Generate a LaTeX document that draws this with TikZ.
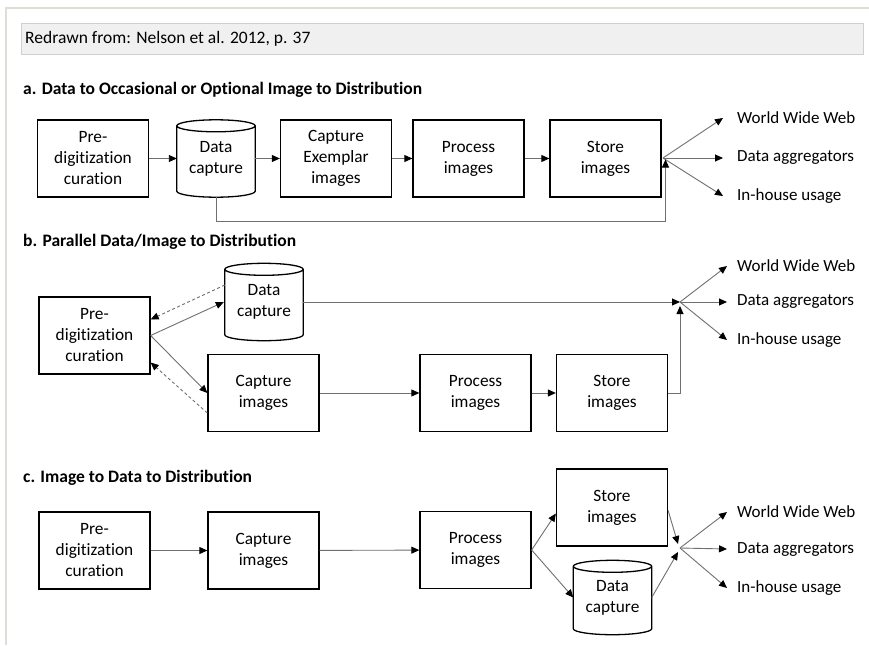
\documentclass[tikz,border=0pt]{standalone}
\usepackage{fontspec}
\setmainfont[Ligatures=NoCommon]{Carlito}
\usetikzlibrary{arrows.meta,calc}

\definecolor{framegray}{HTML}{DEDED8}
\definecolor{bannerfill}{HTML}{F0F0F0}
\definecolor{bannerline}{HTML}{CFCFCF}
\definecolor{linkgray}{HTML}{707070}

\tikzset{
  stage/.style={draw=black, line width=1.3pt, minimum width=111pt, minimum height=77pt,
    align=center, inner sep=0pt, font=\fontsize{17.3}{21}\selectfont},
  drumnode/.style={minimum width=78pt, minimum height=77pt, align=center, inner sep=0pt,
    font=\fontsize{17.3}{21}\selectfont},
  outlabel/.style={anchor=west, inner sep=0pt, font=\fontsize{17}{20.5}\selectfont},
  heading/.style={anchor=west, inner sep=0pt, font=\fontsize{17.5}{20}\selectfont\bfseries},
  link/.style={draw=linkgray, line width=0.9pt, -{Triangle[length=8pt,width=7pt,color=black]}},
  backlink/.style={draw=linkgray, line width=0.9pt, dashed, dash pattern=on 3pt off 2.5pt,
    -{Triangle[length=8pt,width=7pt,color=black]}},
}

% data-store drum drawn around a named node
\newcommand{\drumshape}[1]{%
  \draw[line width=1.3pt] let \p1=(#1.north west), \p2=(#1.south east),
      \n1={(\x2-\x1)/2} in
    (\x1,\y1-6pt) -- (\x1,\y2+6pt)
      arc[start angle=180, end angle=360, x radius=\n1, y radius=6pt]
      -- (\x2,\y1-6pt)
    (\x1+\n1,\y1-6pt) ellipse[x radius=\n1, y radius=6pt];
}

\begin{document}
\begin{tikzpicture}[x=1pt, y=-1pt]
\useasboundingbox (0,0) rectangle (869,645);
\fill[white] (0,0) rectangle (869,645);

% page frame
\draw[framegray, line width=1.2pt] (6,645) -- (6,8) -- (869,8);

% banner
\node[draw=bannerline, fill=bannerfill, line width=0.9pt, minimum width=842pt,
  minimum height=31pt, anchor=north west, inner sep=0pt] (banner) at (21,23) {};
\node[anchor=west, inner sep=0pt, font=\fontsize{17.5}{20}\selectfont] (bannertext)
  at (25,39) {Redrawn from: Nelson et al. 2012, p. 37};

% ---------------- a ----------------
\node[heading] (heada) at (23,90) {a. Data to Occasional or Optional Image to Distribution};

\node[stage] (a1) at (93,158.5) {Pre-\\digitization\\curation};
\node[drumnode] (a2) at (216,158.5) {Data\\capture};
\drumshape{a2}
\node[stage] (a3) at (336,158.5) {Capture\\Exemplar\\images};
\node[stage] (a4) at (468.5,158.5) {Process\\images};
\node[stage] (a5) at (605.5,158.5) {Store\\images};

\coordinate (ahub) at (663,158);
\node[outlabel] (aw) at (737,118) {World Wide Web};
\node[outlabel] (ad) at (737,158) {Data aggregators};
\node[outlabel] (ai) at (737,196) {In-house usage};

\draw[link] (a1) -- (a2);
\draw[link] (a2) -- (a3);
\draw[link] (a3) -- (a4);
\draw[link] (a4) -- (a5);
\draw[link] (ahub) -- ($(aw.west)+(-14,0)$);
\draw[link] (ahub) -- ($(ad.west)+(-14,0)$);
\draw[link] (ahub) -- ($(ai.west)+(-14,0)$);
\draw[link] (a2.south) -- ++(0,24) -| (665.5,159.5);

% ---------------- b ----------------
\node[heading] (headb) at (23,242) {b. Parallel Data/Image to Distribution};

\node[stage] (b1) at (94.5,335.5) {Pre-\\digitization\\curation};
\node[drumnode] (b2) at (264,302) {Data\\capture};
\drumshape{b2}
\node[stage] (b3) at (263.5,393) {Capture\\images};
\node[stage] (b4) at (475.5,393) {Process\\images};
\node[stage] (b5) at (612,393) {Store\\images};

\coordinate (bhub) at (680,302);
\node[outlabel] (bw) at (737,266) {World Wide Web};
\node[outlabel] (bd) at (737,302) {Data aggregators};
\node[outlabel] (bi) at (737,340) {In-house usage};

\draw[link] (b1.east) -- ($(b2.west)+(-1,0)$);
\draw[link] (b1.east) -- (b3.west);
\draw[backlink] ($(b2.west)+(0,-17)$) -- ($(b1.east)+(0,-16)$);
\draw[backlink] ($(b3.west)+(0,20)$) -- ($(b1.east)+(0,27)$);
\draw[link] (b2.east) -- (bhub);
\draw[link] (b3) -- (b4);
\draw[link] (b4) -- (b5);
\draw[link] (b5.east) -| ($(bhub)+(0,4)$);
\draw[link] (bhub) -- ($(bw.west)+(-10,0)$);
\draw[link] (bhub) -- ($(bd.west)+(-10,0)$);
\draw[link] (bhub) -- ($(bi.west)+(-10,0)$);

% ---------------- c ----------------
\node[heading] (headc) at (23,478) {c. Image to Data to Distribution};

\node[stage] (c1) at (94.5,550.5) {Pre-\\digitization\\curation};
\node[stage] (c2) at (263.5,550.5) {Capture\\images};
\node[stage] (c3) at (475.5,550) {Process\\images};
\node[stage] (c4) at (612,507.5) {Store\\images};
\node[drumnode, minimum width=78pt, minimum height=74pt] (c5) at (612.5,597.5) {Data\\capture};
\drumshape{c5}

\coordinate (chub) at (680,548);
\node[outlabel] (cw) at (737,512) {World Wide Web};
\node[outlabel] (cd) at (737,549) {Data aggregators};
\node[outlabel] (ci) at (737,588) {In-house usage};

\draw[link] (c1) -- (c2);
\draw[link] (c2) -- (c3);
\draw[link] (c3.east) -- ($(c4.west)+(0,6)$);
\draw[link] (c3.east) -- (c5.west);
\draw[link] ($(c4.east)+(0,3)$) -- ($(chub)+(-2,-4)$);
\draw[link] (c5.east) -- ($(chub)+(-2,4)$);
\draw[link] (chub) -- ($(cw.west)+(-10,0)$);
\draw[link] (chub) -- ($(cd.west)+(-10,0)$);
\draw[link] (chub) -- ($(ci.west)+(-10,0)$);
\end{tikzpicture}
\end{document}
